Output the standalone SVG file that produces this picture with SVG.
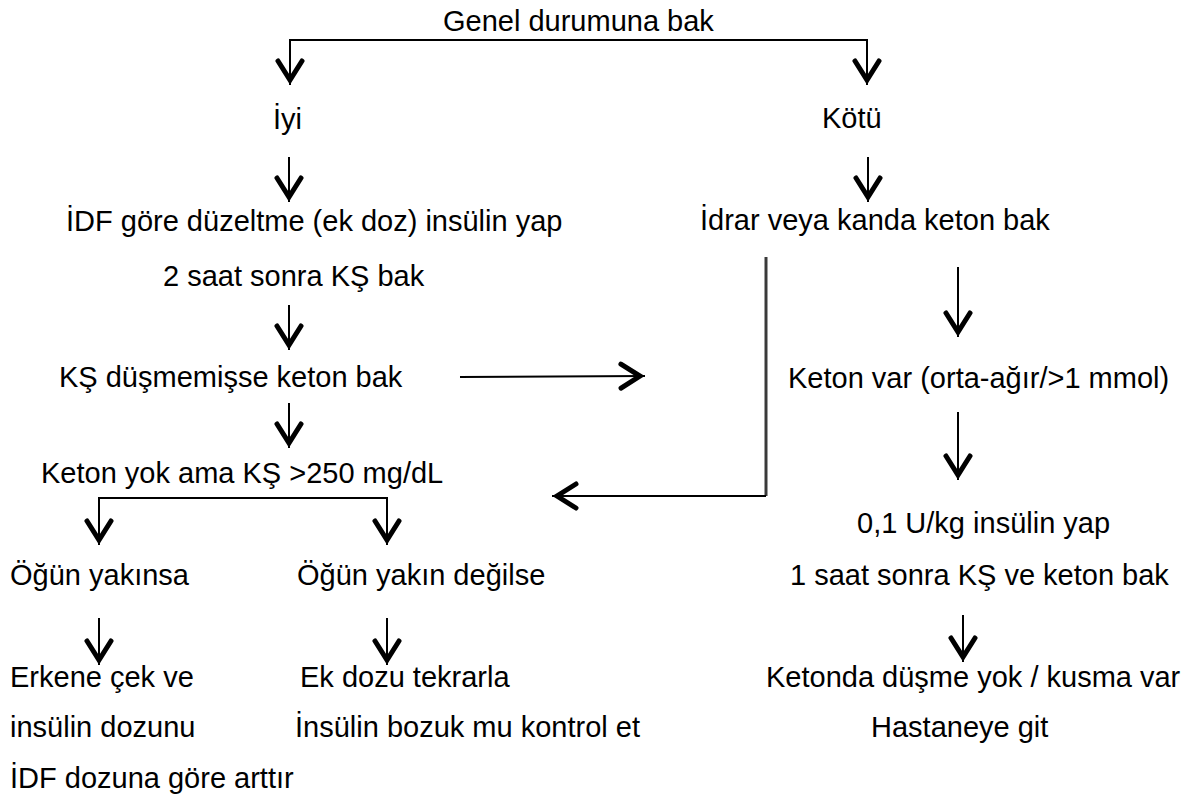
<svg xmlns="http://www.w3.org/2000/svg" width="1199" height="799" viewBox="0 0 1199 799">
<style>
  text { font-family: "Liberation Sans", Arial, sans-serif; font-size: 29px; fill: #000; }
  .c { fill: none; stroke: #000; stroke-width: 2; }
  .g { fill: none; stroke: #3a3a3a; stroke-width: 3; }
</style>
<defs>
  <marker id="ah" markerUnits="userSpaceOnUse" viewBox="-30 -16 34 32" markerWidth="34" markerHeight="32" refX="0" refY="0" orient="auto" overflow="visible">
    <path d="M-24,-12 L-5,0 L-24,12" fill="none" stroke="#000" stroke-width="5" stroke-linecap="round" stroke-linejoin="miter"/>
  </marker>
</defs>
<rect width="1199" height="799" fill="#fff"/>
<g id="connectors">
  <path class="c" d="M290,85 V40 H867 V85" />
  <line class="c" x1="290" y1="46" x2="290" y2="85" marker-end="url(#ah)"/>
  <line class="c" x1="867" y1="46" x2="867" y2="85" marker-end="url(#ah)"/>
  <line class="c" x1="289" y1="157" x2="289" y2="202" marker-end="url(#ah)"/>
  <line class="c" x1="868" y1="157" x2="868" y2="202" marker-end="url(#ah)"/>
  <line class="c" x1="289" y1="305" x2="289" y2="350" marker-end="url(#ah)"/>
  <line class="c" x1="958" y1="267" x2="958" y2="337" marker-end="url(#ah)"/>
  <line class="c" x1="460" y1="377" x2="645" y2="376" marker-end="url(#ah)"/>
  <line class="g" x1="766" y1="257" x2="766" y2="496"/>
  <line class="c" x1="766" y1="496" x2="552" y2="496" marker-end="url(#ah)"/>
  <line class="c" x1="289" y1="403" x2="289" y2="448" marker-end="url(#ah)"/>
  <line class="c" x1="958" y1="412" x2="958" y2="480" marker-end="url(#ah)"/>
  <path class="c" d="M99,545 V498 H387 V545" />
  <line class="c" x1="99" y1="505" x2="99" y2="545" marker-end="url(#ah)"/>
  <line class="c" x1="387" y1="505" x2="387" y2="545" marker-end="url(#ah)"/>
  <line class="c" x1="99" y1="618" x2="99" y2="665" marker-end="url(#ah)"/>
  <line class="c" x1="387" y1="618" x2="387" y2="665" marker-end="url(#ah)"/>
  <line class="c" x1="963" y1="615" x2="963" y2="662" marker-end="url(#ah)"/>
</g>
<g id="n-genel"><text x="443" y="31">Genel durumuna bak</text></g>
<g id="n-iyi"><text x="273" y="129">İyi</text></g>
<g id="n-kotu"><text x="822" y="128">Kötü</text></g>
<g id="n-idf"><text x="66" y="231">İDF göre düzeltme (ek doz) insülin yap</text><text x="163" y="286">2 saat sonra KŞ bak</text></g>
<g id="n-idrar"><text x="700" y="230">İdrar veya kanda keton bak</text></g>
<g id="n-ks"><text x="59" y="387">KŞ düşmemişse keton bak</text></g>
<g id="n-ketonvar"><text x="788" y="388">Keton var (orta-ağır/&gt;1 mmol)</text></g>
<g id="n-ketonyok"><text x="41" y="483">Keton yok ama KŞ &gt;250 mg/dL</text></g>
<g id="n-insulin"><text x="857" y="533">0,1 U/kg insülin yap</text><text x="790" y="585">1 saat sonra KŞ ve keton bak</text></g>
<g id="n-yakin"><text x="10" y="585">Öğün yakınsa</text></g>
<g id="n-yakindegil"><text x="297" y="585">Öğün yakın değilse</text></g>
<g id="n-erkene"><text x="10" y="687">Erkene çek ve</text><text x="10" y="737">insülin dozunu</text><text x="10" y="788">İDF dozuna göre arttır</text></g>
<g id="n-ekdoz"><text x="300" y="687">Ek dozu tekrarla</text><text x="295" y="737">İnsülin bozuk mu kontrol et</text></g>
<g id="n-hastane"><text x="766" y="687">Ketonda düşme yok / kusma var</text><text x="871" y="737">Hastaneye git</text></g>
</svg>
